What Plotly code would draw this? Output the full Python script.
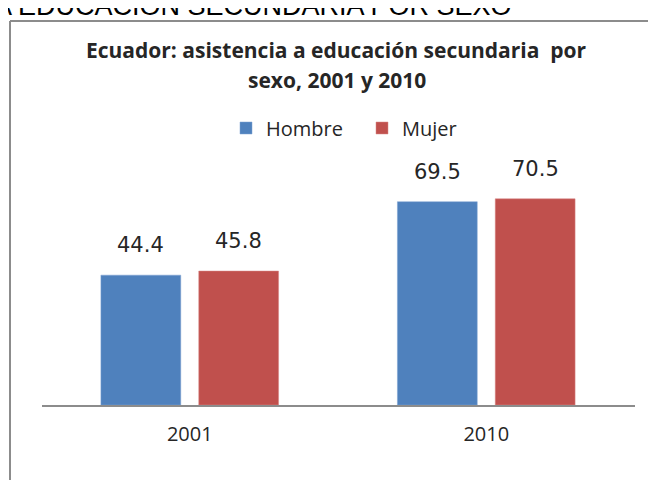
import plotly.graph_objects as go

categories = ["2001", "2010"]
hombre = [44.4, 69.5]
mujer = [45.8, 70.5]
series_names = ["Hombre", "Mujer"]
title_line1 = "Ecuador: asistencia a educación secundaria\u00a0 por"
title_line2 = "sexo, 2001 y 2010"
header_text = "A EDUCACIÓN SECUNDARIA POR SEXO"

W, H = 656, 480
OFF = 8  # page offset of the plot canvas inside the browser window
BLUE = "#4F81BD"
RED = "#C0504D"
FONT = "Open Sans"
TXT = "#262626"


def px(xw):  # window x -> paper fraction
    return (xw - OFF) / W


def py(yw):  # window y -> paper fraction
    return 1 - (yw - OFF) / H


fig = go.Figure()
fig.add_trace(go.Bar(x=categories, y=hombre, name=series_names[0],
                     marker=dict(color=BLUE, line=dict(color="#7FA3D3", width=0.5))))
fig.add_trace(go.Bar(x=categories, y=mujer, name=series_names[1],
                     marker=dict(color=RED, line=dict(color="#D98886", width=0.5))))

# data labels
for vals, shift in ((hombre, -49), (mujer, 49)):
    for i, v in enumerate(vals):
        fig.add_annotation(x=i, y=v, xref="x", yref="y", text=f"{v:.1f}",
                           showarrow=False, xshift=shift, yshift=16, yanchor="bottom",
                           font=dict(family="DejaVu Sans", size=21, color=TXT))

# titles
fig.add_annotation(x=px(336), y=py(50), xref="paper", yref="paper", text=f"<b>{title_line1}</b>",
                   showarrow=False, xanchor="center", yanchor="middle",
                   font=dict(family=FONT, size=21, color=TXT))
fig.add_annotation(x=px(337), y=py(80), xref="paper", yref="paper", text=f"<b>{title_line2}</b>",
                   showarrow=False, xanchor="center", yanchor="middle",
                   font=dict(family=FONT, size=21, color=TXT))
# cropped header above the chart
fig.add_annotation(x=px(514), y=py(23), xref="paper", yref="paper", text=header_text,
                   showarrow=False, xanchor="right", yanchor="bottom",
                   font=dict(family="Liberation Sans", size=27, color="#000000"))

# outer chart border (left + top)
fig.add_shape(type="line", xref="paper", yref="paper", x0=px(10), x1=px(10), y0=py(490), y1=py(21),
              line=dict(color="#8C8C8C", width=2))
fig.add_shape(type="line", xref="paper", yref="paper", x0=px(10), x1=px(670), y0=py(21), y1=py(21),
              line=dict(color="#8C8C8C", width=2))

fig.update_layout(
    width=W, height=H,
    margin=dict(l=0, r=0, t=0, b=0, autoexpand=False),
    paper_bgcolor="white", plot_bgcolor="white",
    barmode="group", bargap=0.34, bargroupgap=0.184,
    showlegend=True,
    legend=dict(orientation="h", x=px(226), xanchor="left", y=py(128), yanchor="middle",
                entrywidth=91, entrywidthmode="pixels",
                font=dict(family=FONT, size=20, color=TXT), bgcolor="rgba(0,0,0,0)"),
    xaxis=dict(type="category", range=[-0.5, 1.5], domain=[px(41.5), px(634.5)], showline=True,
               linecolor="#8C8C8C", linewidth=2, ticks="", showgrid=False, ticklabelstandoff=10,
               automargin=False, tickfont=dict(family=FONT, size=20, color=TXT)),
    yaxis=dict(domain=[py(405), py(171)], range=[0, 80], visible=False, showgrid=False,
               automargin=False),
)

fig.write_html("out.html")
